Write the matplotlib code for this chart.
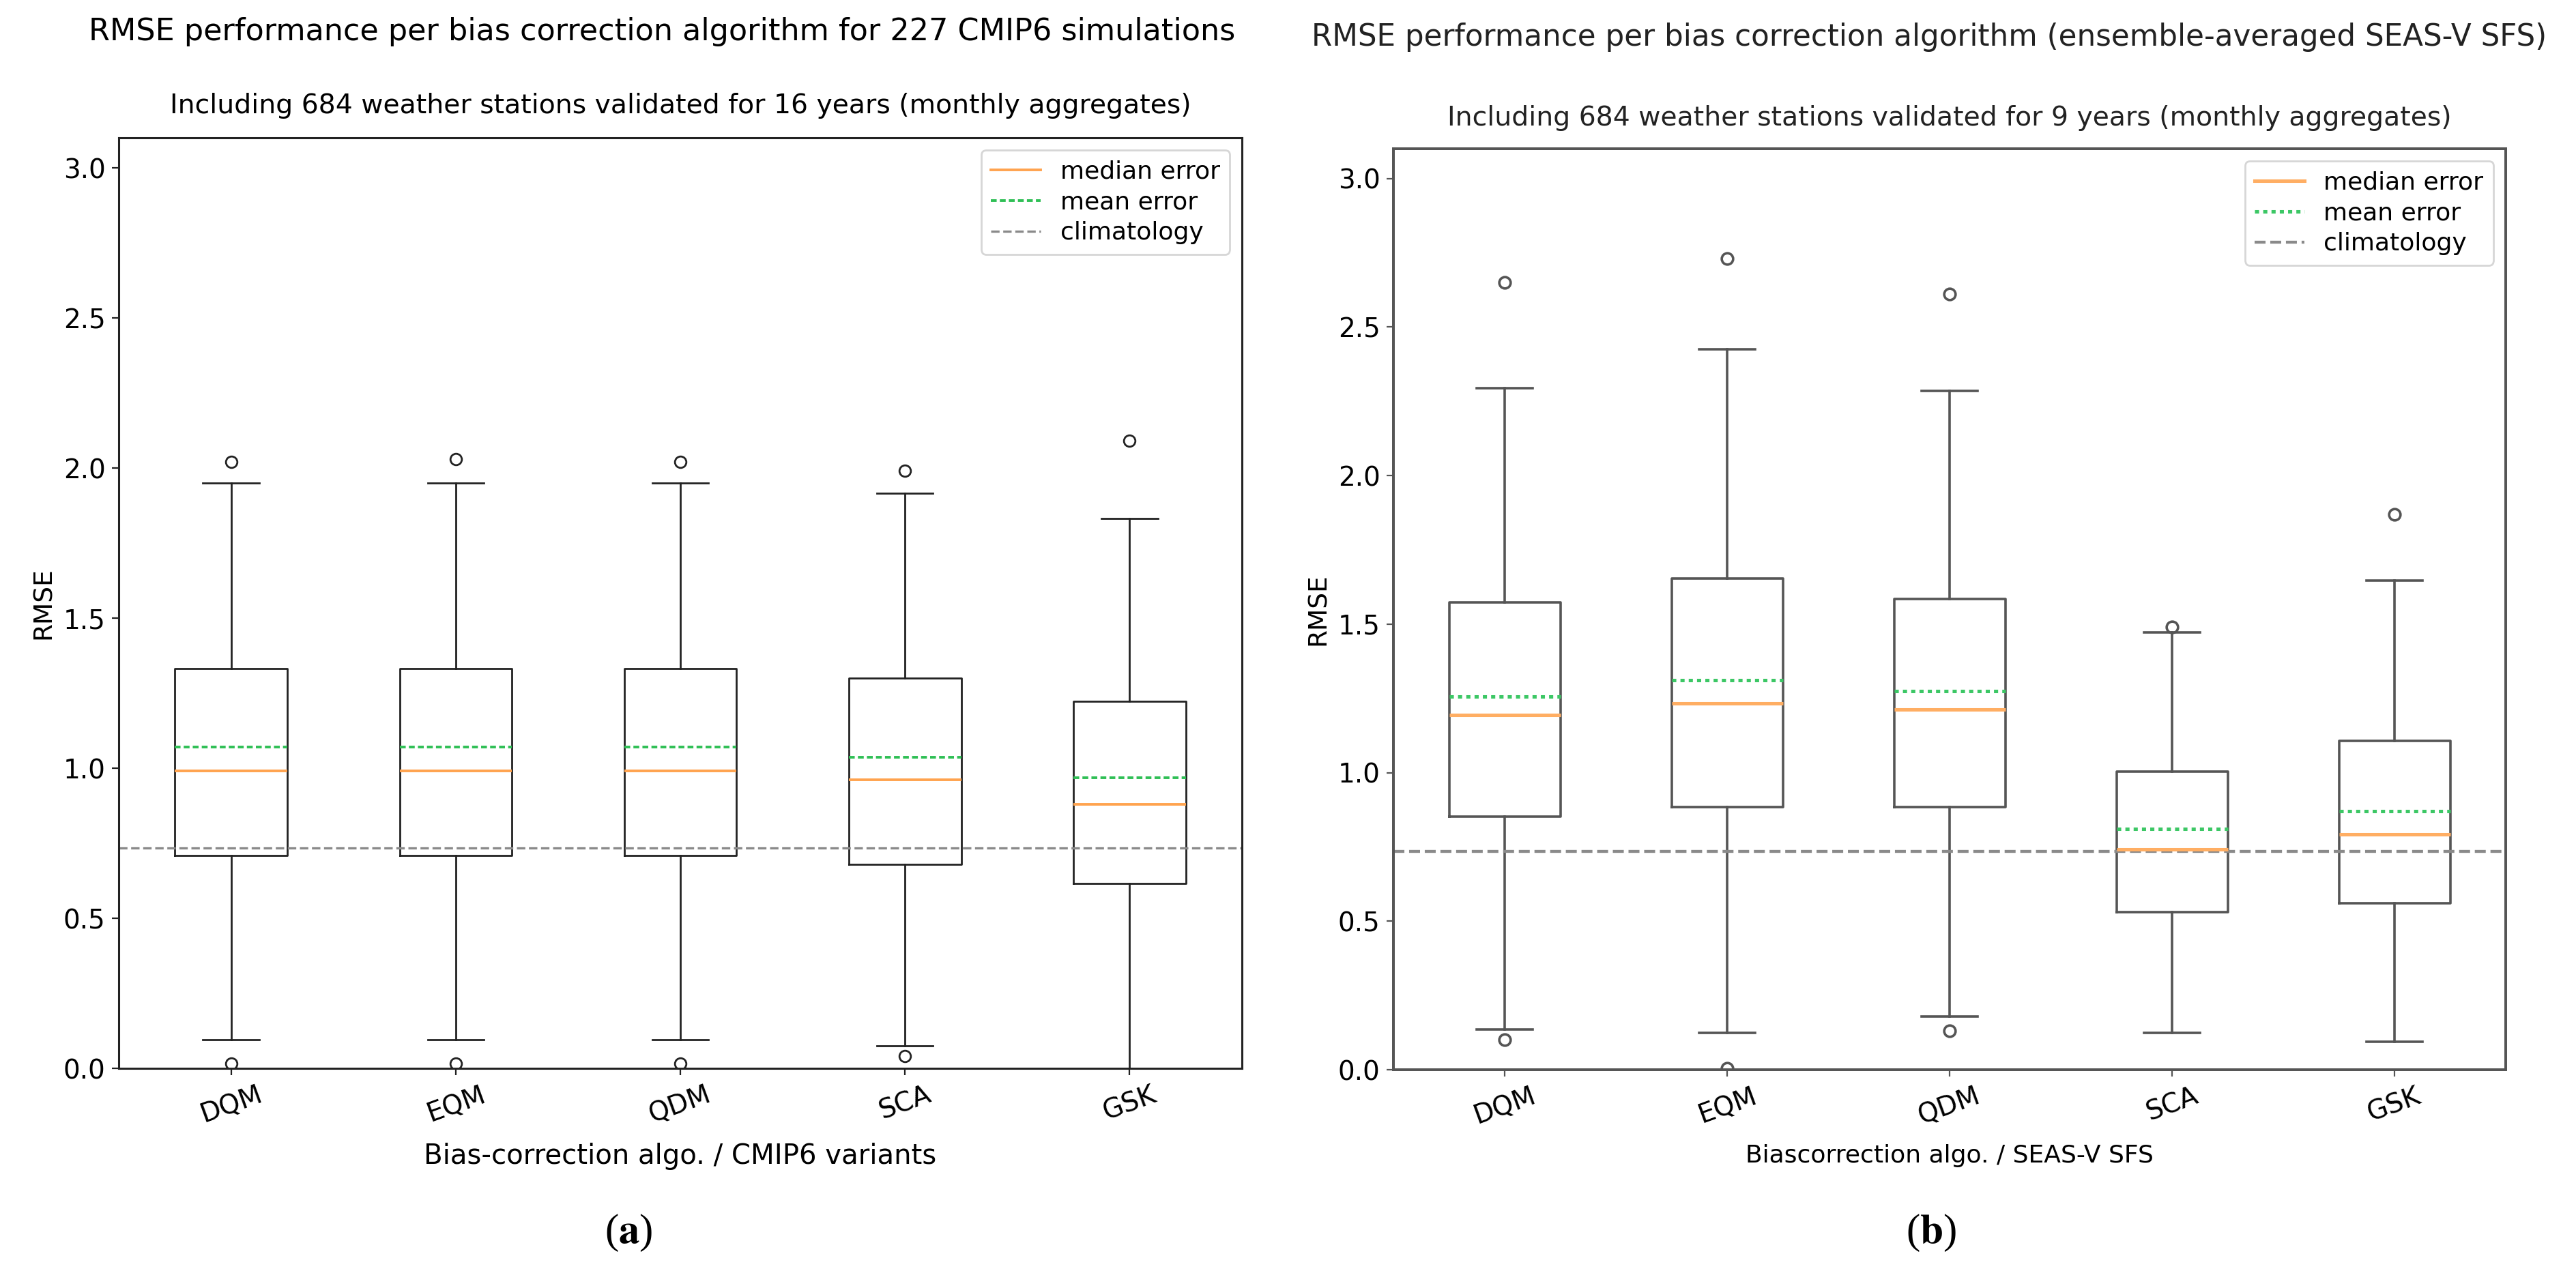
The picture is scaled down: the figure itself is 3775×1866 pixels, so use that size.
import matplotlib
matplotlib.use("Agg")
import matplotlib.pyplot as plt
from matplotlib.lines import Line2D

algos = ["DQM", "EQM", "QDM", "SCA", "GSK"]

# (a) 227 CMIP6 simulations, 16 years
cmip_q1 = [0.71, 0.71, 0.71, 0.68, 0.615]
cmip_med = [0.99, 0.99, 0.99, 0.962, 0.88]
cmip_mean = [1.07, 1.07, 1.07, 1.037, 0.969]
cmip_q3 = [1.332, 1.332, 1.332, 1.30, 1.223]
cmip_whislo = [0.095, 0.095, 0.095, 0.075, 0.0]
cmip_whishi = [1.951, 1.951, 1.951, 1.917, 1.831]
cmip_fliers = [[2.02, 0.015], [2.03, 0.015], [2.02, 0.015], [1.99, 0.04], [2.09]]

# (b) ensemble-averaged SEAS-V SFS, 9 years
seas_q1 = [0.852, 0.884, 0.884, 0.53, 0.56]
seas_med = [1.195, 1.234, 1.213, 0.742, 0.793]
seas_mean = [1.256, 1.312, 1.275, 0.811, 0.871]
seas_q3 = [1.573, 1.654, 1.585, 1.004, 1.107]
seas_whislo = [0.135, 0.123, 0.18, 0.123, 0.094]
seas_whishi = [2.295, 2.424, 2.285, 1.473, 1.647]
seas_fliers = [[2.65, 0.10], [2.73, 0.005], [2.61, 0.13], [1.49], [1.87]]

climatology = 0.735

W, H, DPI = 3775, 1866, 200
plt.rcParams["mathtext.fontset"] = "stix"
fig = plt.figure(figsize=(W / DPI, H / DPI), dpi=DPI)


def px_box(x0, x1, y0, y1):
    return [x0 / W, 1 - y1 / H, (x1 - x0) / W, (y1 - y0) / H]


def make_stats(q1, med, mean, q3, lo, hi, fliers):
    stats = []
    for i in range(len(q1)):
        stats.append(dict(q1=q1[i], med=med[i], mean=mean[i], q3=q3[i],
                          whislo=lo[i], whishi=hi[i], fliers=fliers[i]))
    return stats


def draw_panel(ax, stats, xlabel, xlabel_size, edge, lw, mean_ls, med_c, mean_c):
    ax.bxp(stats, positions=range(1, len(stats) + 1), widths=0.5,
           showmeans=True, meanline=True,
           boxprops=dict(color=edge, linewidth=lw),
           whiskerprops=dict(color=edge, linewidth=lw),
           capprops=dict(color=edge, linewidth=lw),
           flierprops=dict(marker="o", markerfacecolor="none",
                           markeredgecolor=edge, markersize=6, markeredgewidth=lw),
           medianprops=dict(color=med_c, linewidth=lw * 1.4),
           meanprops=dict(color=mean_c, linestyle=mean_ls, linewidth=lw * 1.4))
    ax.axhline(climatology, color="#8a8a8a", linestyle="--", linewidth=lw * 1.2)
    ax.set_ylim(0, 3.1)
    ax.set_xlim(0.5, 5.5)
    ax.set_xticks(range(1, 6))
    ax.set_xticklabels(algos, rotation=20, fontsize=14)
    ax.tick_params(axis="y", labelsize=14, color=edge)
    ax.tick_params(axis="x", color=edge)
    for s in ax.spines.values():
        s.set_color(edge)
        s.set_linewidth(lw * 1.1)
    ax.set_ylabel("RMSE", fontsize=13.5)
    ax.set_xlabel(xlabel, fontsize=xlabel_size, labelpad=8)
    handles = [Line2D([], [], color=med_c, linewidth=lw * 1.4),
               Line2D([], [], color=mean_c, linestyle=mean_ls, linewidth=lw * 1.4),
               Line2D([], [], color="#8a8a8a", linestyle="--", linewidth=lw * 1.2)]
    ax.legend(handles, ["median error", "mean error", "climatology"],
              loc="upper right", fontsize=13, labelspacing=0.3)


ax1 = fig.add_axes(px_box(174, 1820, 202, 1566))
draw_panel(ax1, make_stats(cmip_q1, cmip_med, cmip_mean, cmip_q3,
                           cmip_whislo, cmip_whishi, cmip_fliers),
           "Bias-correction algo. / CMIP6 variants", 14.5, "#222222", 1.0,
           (0, (2.2, 1.2)), "#ffa34f", "#2fbf55")

ax2 = fig.add_axes(px_box(2042, 3672, 218, 1568))
draw_panel(ax2, make_stats(seas_q1, seas_med, seas_mean, seas_q3,
                           seas_whislo, seas_whishi, seas_fliers),
           "Biascorrection algo. / SEAS-V SFS", 13, "#555555", 1.3,
           (0, (1.2, 1.2)), "#ffae63", "#3cc765")

fig.text(970 / W, 1 - 47 / H, "RMSE performance per bias correction algorithm for 227 CMIP6 simulations",
         ha="center", va="center", fontsize=16)
fig.text(997 / W, 1 - 155 / H, "Including 684 weather stations validated for 16 years (monthly aggregates)",
         ha="center", va="center", fontsize=14.2)
fig.text(2827 / W, 1 - 55 / H, "RMSE performance per bias correction algorithm (ensemble-averaged SEAS-V SFS)",
         ha="center", va="center", fontsize=15.7, color="#222222")
fig.text(2857 / W, 1 - 173 / H, "Including 684 weather stations validated for 9 years (monthly aggregates)",
         ha="center", va="center", fontsize=14.2, color="#222222")

fig.text(921 / W, 1 - 1807 / H, r"($\mathbf{a}$)", ha="center", va="center",
         fontsize=22, family="Liberation Serif")
fig.text(2830 / W, 1 - 1807 / H, r"($\mathbf{b}$)", ha="center", va="center",
         fontsize=22, family="Liberation Serif")

fig.savefig("out.png", dpi=DPI)
